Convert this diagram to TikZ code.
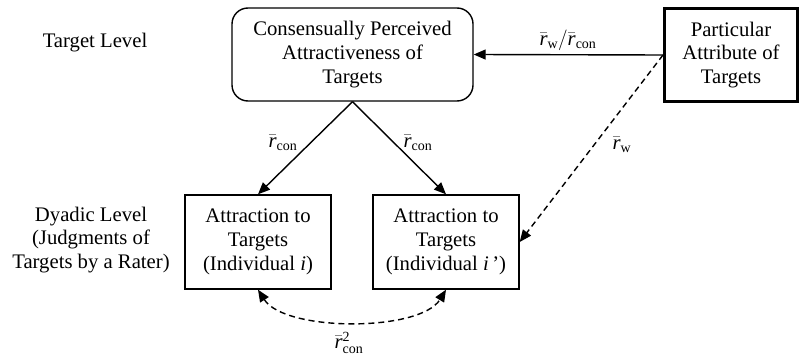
\documentclass[tikz,border=0pt]{standalone}
\usepackage{fontspec}
\setmainfont{Liberation Serif}
\usetikzlibrary{arrows.meta}
\newcommand\rbr{\bar{\mbox{\itshape r}}}
\newcommand\sub[1]{\mbox{\fontsize{14pt}{14pt}\selectfont #1}}
\begin{document}
\begin{tikzpicture}[x=1pt,y=-1pt,
  font=\fontsize{20.7pt}{23.7pt}\selectfont,
  box/.style={draw,line width=1.4pt,inner sep=0pt,align=center,minimum width=146pt,minimum height=94pt},
  lbl/.style={inner sep=0pt},
  arr/.style={line width=1.4pt,-{Triangle[length=12pt,width=10pt]}},
  darr/.style={arr,dash pattern=on 6pt off 4pt}]
\useasboundingbox (0,0) rectangle (800,358);
\node[box,rounded corners=16pt,minimum width=241pt,minimum height=93pt] (top) at (352.5,54.5)
  {Consensually Perceived\\Attractiveness of\\Targets};
\node[box,line width=3pt,minimum width=133pt,minimum height=93pt] (attr) at (731,55)
  {Particular\\Attribute of\\Targets};
\node[box] (b1) at (258,242) {Attraction to\\Targets\\(Individual \textit{i})};
\node[box] (b2) at (446,242) {Attraction to\\Targets\\(Individual \textit{i\,}')};
\node[align=center,inner sep=0pt] (tl) at (95,43) {Target Level};
\node[align=center,inner sep=0pt] (dl) at (91,240) {Dyadic Level\\(Judgments of\\Targets by a Rater)};
\draw[arr] (top.south) -- (b1.north);
\draw[arr] (top.south) -- (b2.north);
\draw[arr] (attr.west) -- (top.east);
\draw[darr] (attr.west) -- (b2.east);
\draw[darr,{Triangle[length=12pt,width=10pt]}-{Triangle[length=12pt,width=10pt]}] (b1.south) .. controls (285,332) and (420,332) .. (b2.south);
\node[lbl] (l1) at (283,143) {$\rbr_{\sub{con}}$};
\node[lbl] (l2) at (418,143) {$\rbr_{\sub{con}}$};
\node[lbl] (l3) at (568,40) {$\rbr_{\sub{w}}/\rbr_{\sub{con}}$};
\node[lbl] (l4) at (622,145) {$\rbr_{\sub{w}}$};
\node[lbl] (l5) at (349,343) {$\rbr^{\sub{2}}_{\sub{con}}$};
\end{tikzpicture}
\end{document}
